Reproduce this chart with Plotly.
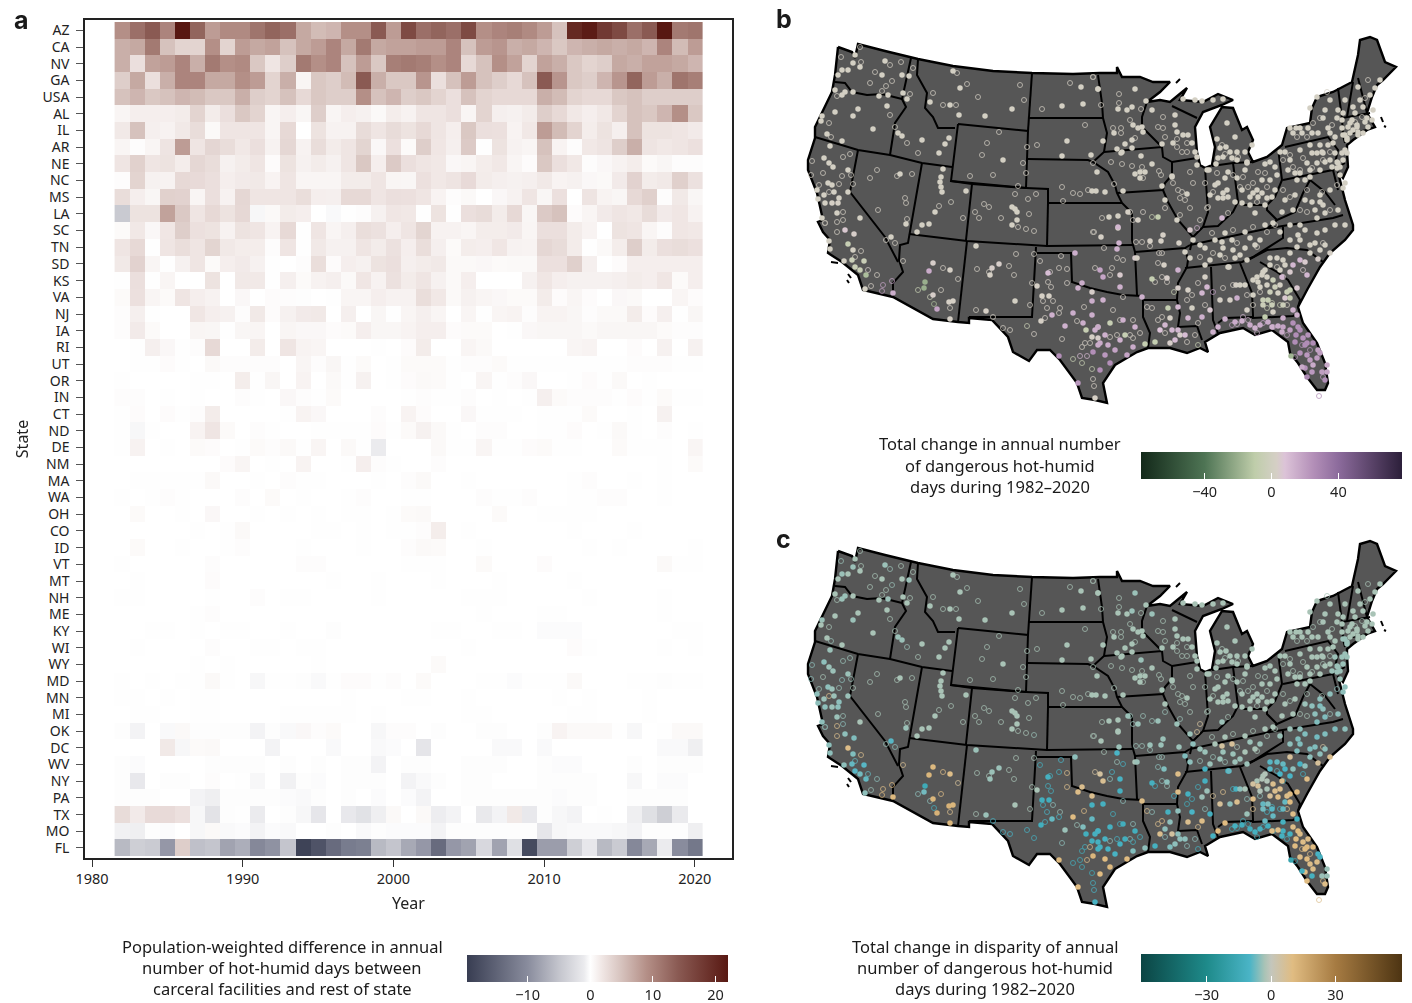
import plotly.graph_objects as go

FONT = "Noto Sans"
W, H = 1412, 1003
years = list(range(1982, 2021))
states = ["AZ","CA","NV","GA","USA","AL","IL","AR","NE","NC","MS","LA","SC","TN","SD","KS","VA","NJ","IA","RI","UT","OR","IN","CT","ND","DE","NM","MA","WA","OH","CO","ID","VT","MT","NH","ME","KY","WI","WY","MD","MN","MI","OK","DC","WV","NY","PA","TX","MO","FL"]

AZ=[9,12,14,10,22,13,8,9.5,9.5, 11.5,13,12,7,5.5,6,9,9,14,8, 16,12,13,12,16,9,10,10.5,9.5,8, 5,20,21.5,18,16,12,14,22,11,11.5]
CA=[6.5,7,11,5,3.5,3.5,9,3.5,8, 7,7.5,5,7,8,10,7,11,7,7.5, 7.5,8,8,10,5,8,8.5,6.5,7,6, 4.5,6,6.5,7,6.5,7,6,10,5.5,5][:38]+[8]
NV=[6.5,2.5,7.5,8,10,6.5,11,9,9.5, 4.5,2,4,11,9,10,5,8,4.5,10.5, 11,10.5,9,10,3,5,9,7.5,3.5,7.5, 6.5,4.5,3.5,4,7,6.5,7.5,7.5,7,6]
GA=[4,7,2.5,6.5,10,10,7,7,9, 8,3.5,6.5,.8,4.5,4,5.5,14,6.5,4.5, 4.5,8.5,2.5,5,8,5,4,3,5,14, 8.5,4.5,4,6,8.5,13,8,6.5,11.5,10.5]
USA=[5,6,4.5,5,6,5.5,4.5,4.5,6.5, 4,3.5,5,3,4.5,4,4,9,5,6, 4,4.5,3.5,2.5,5,3.5,3,3,3,6.5, 5.5,3.5,3,3,4.5,5,4,4,4,4]
AL=[.8,1.3,1.3,1.3,1.5,3.5,1.5,2.5,4.5, 3.5,.8,1.3,.7,4,.8,1.3,1.1,.5,1.4, 1,2,2,2.5,.8,3.5,1.2,1.1,1.5,4, 3,1.8,1.3,1.8,3.5,5,4.5,6,9,4.5]
IL=[1.7,5,1.2,1,1.7,2.7,.5,2,2, 2,.8,3,0,2.2,1,1,2.8,2,2.8, 2.2,3,2,1.3,4.5,2.5,2.4,.9,1.8,8, 5.5,3.5,1.4,2.2,1.2,5,2.2,2.2,2,1.6]
AR=[.8,.2,.8,2.1,8,2,3.3,2.7,1.8, 2.5,1,3.2,1,2.7,1.5,2,3.4,.6,2.4, .4,4,1.9,1.2,4.3,.1,2.2,1,.8,5, .9,.2,1.8,2.1,4,6.5,2.1,1.8,2,2.4]
NE=[2,3.7,2,2.2,1.4,3.2,2.7,1.1,1.5, 2,.3,2.2,1.1,1.5,1.1,2,4.5,1.3,4.3, 2.5,2,1.8,.6,.8,1.4,1.8,.8,.3,4.5, 2.5,1.8,.2,.6,1,1.4,.4,.7,.2,.2]
NC=[.2,3.5,1.1,1,3,2.9,2.5,1.3,1.6, 1.7,.9,2,.8,.8,.8,1.5,1.5,2,.8, .7,2.4,1.8,2.1,2.9,1.5,1.2,1.1,1.2,1.7, .9,1.1,.6,.5,1.6,3.6,1.5,1.7,3.8,2.3]
MS=[2.7,1.3,.7,3.7,3.6,.8,2.5,1,3.2, 2,2,2,2.6,1.3,1.2,3,3,2,2.5, 2.4,2,.9,.2,.5,0,.6,1,2,.7, 2.4,0,2.1,.9,.7,3,3.8,.2,1.7,.7]
LA=[-4.5,2.2,2.2,7.5,4.4,2,3,2.2,3.1, -.4,.5,1.5,1.3,0,-.3,.1,.2,1.1,1.9, 1.8,.1,2.2,.1,2.5,2.8,1.5,3,.7,4.3, 5,.3,.8,1.6,2,1.8,2.8,1.6,1.9,1]
SC=[.4,1.8,.6,1.9,4,2.4,2.2,1,2.2, 2,.9,3,.1,2,.8,1.2,2.6,2.3,1.3, 2,3.4,1,1,.8,1.4,1.4,1.6,.8,2.5, 2.5,1.5,.9,0,2.2,2,.8,.2,1.9,1.8]
TN=[2,3,.1,2,2.6,2,3.4,1.7,1.4, 1.4,.2,2,.1,1.7,1.1,1.1,2,1.5,2.3, 1.3,2.6,1.2,.4,1.4,1.3,1.9,1,.9,3.2, 2.8,1.5,.1,.5,1.4,4,1.5,2.5,2.7,2.4]
SD=[1.7,3.6,.8,.1,1.1,2,.4,1.3,1.6, 1.1,.1,0,.2,2.6,.3,1.3,1.1,2.2,2.5, 1.2,1.5,1.7,.5,.5,.6,.4,.5,.5,2.4, 2.4,3.8,1.2,0,.3,1.3,1.3,1.3,1.3,1.3]
KS=[.1,2.5,.1,.8,0,0,2.2,0,1.7, 1.7,.1,1.2,.4,1,1.2,.5,1.9,1,2.3, 1.5,2,1.1,.5,1.3,0,0,0,1.1,1.9, 1.3,1.1,1.1,1.1,1.2,1.5,1.3,1.9,.4,1.3]
VA=[.4,2.4,.8,.4,2,1.3,1,0,.6, 0,.3,.2,-.1,0,.1,.8,.8,1.3,1, 1,2.6,1.8,.5,1.1,.8,.6,.4,.4,1.5, .3,.8,.3,0,.6,.5,0,0,.8,.3]
NJ=[.2,1.2,.1,0,0,1.9,1.3,1.1,.2, 1.7,.3,1.1,1.6,1.7,0,1.2,0,.7,.1, .8,1.2,.8,0,.8,.1,.8,.9,.2,.9, .9,.7,.2,.5,.5,1.5,.3,1.2,.1,.7]
IA=[.2,1.6,.4,0,0,.8,.7,.1,.7, .8,0,.8,.6,.6,.3,.4,1.3,.7,.7, .9,1.3,1.3,.3,.4,.4,0,.1,.6,.7, .7,.7,.5,.7,.7,.7,.7,.4,.2,.2]
RI=[0,.1,1.2,.6,.1,.2,3,0,0, 1.5,0,2,.9,.8,0,0,0,.1,0, .3,1.5,0,0,.8,.5,0,0,0,0, 0,.8,.9,0,0,.3,0,1.1,0,1.1]
UT=[0,.1,.1,.3,.1,0,.5,.2,.2, .2,.2,0,.8,.2,.7,.1,.4,0,.1, .4,.4,.4,.1,.2,.2,.4,.1,.1,.1, .1,.1,.1,.1,.1,.2,.2,.2,.1,.1]
OR=[.1,0,0,0,0,.1,.1,0,1.4, .1,.7,0,.9,0,.5,.1,1.1,0,.1, .3,.5,.4,.1,0,.8,.1,.2,.6,0, 0,.1,.3,.1,.5,0,.1,0,0,0]
IN=[.2,.2,0,.1,0,.1,0,0,.2, .1,0,.6,.2,.1,.4,0,0,0,0, .1,.2,.1,.1,.2,0,.1,0,.1,1.2, .4,.2,.2,.2,.1,.3,.1,.4,.1,.1]
CT=[.1,.3,0,.3,.1,.2,1.5,0,0, 0,0,.1,.9,.6,0,0,0,.2,0, .9,.3,0,0,.6,.1,.1,.1,0,.1, .1,.1,.4,0,0,.1,0,1.1,0,0]
ND=[.1,-.4,.1,0,0,.9,2,.4,0, .2,.1,0,0,.1,.1,.1,.1,.3,.1, .4,1.1,.5,.1,0,.2,.2,0,0,.1, .1,.3,0,.1,.5,.1,0,.2,0,.1]
DE=[.1,1,0,.1,0,.4,.3,0,.1, .4,.2,.5,.1,.8,0,.5,.1,-1,0, 0,0,.5,.1,.1,.8,.1,.1,.3,.4, .1,.1,0,0,.4,.1,.1,.1,0,.8]
NM=[0,0,0,0,0,0,0,.3,.8, 0,.1,0,.9,0,0,.1,1.3,.2,.1, 0,0,.2,0,0,0,0,0,0,0, 0,0,0,0,0,0,0,.1,0,.4]
MA=[0,.1,.1,.1,.1,.1,.5,0,0, .1,0,.2,.1,.1,0,0,0,.1,0, .2,.5,0,0,.1,0,0,0,0,0, 0,.1,.2,0,0,.1,0,.1,0,0]
WA=[.1,0,.1,.2,.1,0,0,0,.2, 0,.4,0,.1,0,0,.1,.2,0,0, .1,.1,0,0,0,.2,.1,.1,.2,0, 0,.1,.1,.2,.2,0,0,.1,0,0]
OH=[0,.4,0,0,.1,0,.6,0,0, .1,0,.1,0,.1,0,.1,.1,0,.1, .4,.5,0,0,0,0,.4,0,0,.1, .1,.1,.1,0,0,0,0,0,0,0]
CO=[0,0,0,0,0,.1,0,.1,.5, 0,0,0,0,.1,.1,0,.1,0,.1, .1,.2,1.4,0,.1,0,0,0,0,0, 0,.1,0,0,0,.1,0,0,0,0]
ID=[0,.4,0,0,.1,0,0,.1,.2, 0,0,0,.1,0,0,0,.1,0,0, .2,.5,.4,0,0,.1,0,0,0,0, 0,0,.1,0,.1,0,0,0,0,.1]
VT=[.1,0,0,0,0,0,.2,0,0, 0,0,0,.2,.2,0,0,0,0,0, .1,.1,.1,0,0,.4,0,0,0,.3, 0,0,0,0,0,0,0,.5,.1,.1]
MT=[0,.1,0,0,0,0,.3,0,0, 0,0,0,0,0,.1,0,0,.1,0, 0,0,.1,0,0,0,.1,0,0,0, 0,.1,0,0,0,0,0,0,0,0]
NH=[.1,.1,0,0,0,0,.1,0,0, .2,0,.1,.1,0,0,0,0,.1,0, 0,0,0,0,.1,.1,.1,0,0,0, 0,0,.1,0,0,0,0,.1,0,0]
ME=[0,0,0,0,0,.1,.2,0,0, 0,0,0,0,0,0,0,0,0,0, 0,0,0,0,0,.1,0,0,0,.1, .1,0,0,0,0,0,0,.1,0,0]
KY=[0,0,.1,.1,0,.1,0,.1,.1, 0,0,.1,0,0,-.1,0,0,0,0, 0,0,.1,.1,0,0,.1,.1,0,-.2, -.2,-.2,0,0,0,0,0,0,.1,.1]
WI=[0,.1,0,0,0,0,.2,0,0, .1,.1,0,.1,.1,0,0,0,0,0, 0,0,0,0,.1,0,0,0,0,0, 0,.3,.1,0,0,0,0,.1,0,.1]
WY=[0,0,0,0,0,.1,0,.1,0, 0,0,0,0,.1,0,0,0,0,0, 0,0,.4,0,0,0,0,0,0,0, 0,0,0,0,0,0,0,0,0,0]
MD=[.1,0,.1,0,.1,.1,.5,.1,0, -.4,.1,.1,-.1,-.3,.1,.3,.3,.1,.2, 0,.4,0,0,0,.1,.1,-.2,.1,.1, .1,.5,0,0,0,.1,.1,-.1,.1,.1]
MN=[.1,.1,0,.1,0,.1,.1,0,0, 0,0,0,0,0,0,.1,0,0,0, .1,.1,0,0,.1,0,0,0,0,0, .1,0,.1,0,0,0,.1,0,0,0]
MI=[0,.1,.1,0,0,.1,.1,0,0, 0,0,.1,.1,.1,.1,.1,0,.1,0, 0,0,0,0,.1,.1,0,0,0,0, 0,.1,.1,0,0,0,.1,0,0,0]
OK=[-.1,-.6,0,-.3,.5,-.1,-.1,-.1,-.1, -.6,-.1,-.3,.6,.2,.4,0,0,-.4,.2, .2,0,-.1,0,0,-.1,-.1,0,0,-.1, .9,.5,.5,.5,.1,-.4,0,.1,.5,.5]
DC=[0,0,0,1.7,-.4,.4,.5,0,0, 0,-.6,0,0,0,-.3,0,0,-.3,-.2, 0,-1.6,0,0,0,0,-.3,-.3,0,-.3, 0,0,0,0,0,0,0,-.3,-.3,-.8]
WV=[-.1,-.2,0,0,0,0,-.1,-.1,-.1, -.1,0,-.1,0,-.1,0,-.1,-.1,-.6,0, -.1,-.1,0,0,-.1,-.1,-.1,0,0,-.1, -.2,-.2,0,0,0,-.1,0,-.1,-.1,-.1]
NY=[-.1,-1.3,0,-.1,-.1,0,.2,0,.1, -.4,0,-.7,-.1,-.2,0,-.1,-.1,-.1,0, -.6,-.3,-.1,0,-.1,-.1,0,0,0,-.1, -.1,-.1,-.1,0,0,-.4,0,-.2,-.2,0]
PA=[-.1,-.1,-.1,0,0,-.6,-.8,-.1,-.1, -.1,-.1,-.2,-.3,-.1,0,-.1,0,-.2,0, -.2,-.6,0,0,-.1,-.1,-.1,-.1,-.1,-.1, -.2,-.1,-.1,0,0,-.1,-.1,-.1,-.1,0]
TX=[2.8,1.6,2.9,2.9,2.4,-.4,-1.8,-.1,.1, -1,0,-.1,-.4,-1.5,0,-1.3,-2,-.8,.5, 0,.5,-.9,-.6,0,-1.2,-.6,1.7,-1.3,-.1, -.4,-.6,0,.1,0,-.8,-2.2,-4,-1.1,0]
MO=[-.7,-.8,-.1,-.2,0,-.4,.5,-.3,-.2, -.6,-.2,-.3,0,0,-.1,0,-.3,-.1,-.2, -.2,-.2,-.6,-.1,-.1,-.1,-.1,-.1,-.1,-1.5, -.4,-.3,-.3,-.3,-.4,-.6,-.1,-.1,-.1,-.8]
FL=[-6,-4,-4.4,-9,4,-5.4,-5,-8,-7, -10.5,-9.5,-5,-19,-17,-14,-12,-11.5,-6,-5, -7.5,-9,-14,-9,-8,-3,-8,-2.2,-18,-8.5, -8.5,-4,-1.4,-6,-4.4,-10.5,-7.5,-1,-10,-12.5]

rows = [AZ,CA,NV,GA,USA,AL,IL,AR,NE,NC,MS,LA,SC,TN,SD,KS,VA,NJ,IA,RI,UT,OR,IN,CT,ND,DE,NM,MA,WA,OH,CO,ID,VT,MT,NH,ME,KY,WI,WY,MD,MN,MI,OK,DC,WV,NY,PA,TX,MO,FL]
for s, r in zip(states, rows):
    assert len(r) == 39, (s, len(r))

# Map outline and state borders in map units
us_outline = [(838,47),(846,50),(852,52),(855,58),(858,44),(885,51),(912,57),(918,59),(953,66),(993,71),(1032,73),(1073,74),(1100,73),(1117,73),(1117,67),(1122,77),(1140,77),(1153,82),(1170,82),(1160,92),(1147,102),(1160,100),(1170,102),(1187,88),(1180,100),(1203,102),(1218,94),(1233,100),(1222,105),(1203,112),(1195,127),(1197,152),(1200,165),(1205,168),(1212,165),(1215,147),(1210,127),(1222,107),(1233,108),(1242,130),(1247,127),(1253,140),(1248,152),(1253,162),(1267,157),(1282,145),(1287,128),(1310,123),(1312,108),(1317,97),(1333,92),(1352,82),(1358,55),(1360,40),(1370,37),(1377,40),(1385,62),(1396,67),(1383,80),(1377,85),(1372,97),(1367,113),(1375,127),(1367,130),(1353,140),(1347,145),(1347,152),(1348,167),(1343,178),(1338,172),(1345,200),(1353,225),(1353,230),(1345,240),(1330,253),(1320,267),(1307,290),(1298,307),(1303,323),(1317,343),(1325,363),(1328,383),(1325,390),(1317,390),(1307,377),(1298,363),(1290,353),(1288,342),(1272,330),(1255,335),(1243,328),(1220,333),(1205,342),(1208,352),(1200,348),(1187,353),(1170,348),(1148,348),(1137,352),(1115,365),(1103,383),(1107,403),(1095,400),(1082,398),(1077,383),(1060,360),(1050,350),(1037,350),(1029,361),(1013,352),(1008,337),(992,320),(969,318),(969,323),(958,322),(933,319),(893,297),(863,290),(858,275),(842,262),(828,253),(830,240),(823,232),(818,222),(823,220),(817,193),(808,170),(808,160),(815,138),(815,127),(832,92),(835,75),(838,47)]
state_borders = [
 [(835,82),(845,83),(852,92),(867,95),(882,94),(902,99)],
 [(911,58),(902,99),(906,107),(895,123),(890,155)],
 [(815,137),(858,150),(890,155),(922,163),(952,167)],
 [(918,59),(917,75),(927,93),(925,108),(933,117),(938,128),(955,128)],
 [(958,124),(1028,131),(1026,188),(951,181),(958,124)],
 [(1032,73),(1028,131)],
 [(1029,118),(1103,118)],
 [(1098,75),(1102,103),(1103,118),(1107,133),(1104,152),(1093,162)],
 [(1028,159),(1088,160),(1093,162),(1108,172),(1115,185),(1117,193),(1122,203),(1132,213),(1132,240),(1133,245)],
 [(1026,188),(1048,189),(1048,203),(1122,203)],
 [(1104,152),(1162,147),(1163,157),(1172,162),(1172,175),(1165,183),(1163,190),(1117,193)],
 [(1147,102),(1142,117),(1142,127),(1152,137),(1162,147)],
 [(1172,106),(1197,118)],
 [(1172,162),(1197,158)],
 [(1205,168),(1207,202),(1208,212),(1203,227)],
 [(1163,190),(1168,202),(1178,220),(1193,237),(1190,250)],
 [(1193,237),(1203,227),(1218,226),(1233,212),(1238,202),(1243,205),(1267,205),(1275,197),(1282,180),(1278,148)],
 [(1212,166),(1233,163),(1253,162)],
 [(1233,163),(1238,202)],
 [(1267,205),(1267,210),(1277,220),(1295,212),(1303,193),(1310,180),(1325,192),(1335,205)],
 [(1277,220),(1268,228)],
 [(1283,180),(1333,170),(1338,190)],
 [(1333,170),(1345,163)],
 [(1285,147),(1328,137),(1338,150),(1335,163)],
 [(1338,88),(1342,118),(1343,135),(1345,143)],
 [(1353,82),(1347,117)],
 [(1358,78),(1367,113)],
 [(1342,118),(1370,113)],
 [(1343,135),(1367,130)],
 [(1190,245),(1223,238),(1270,228),(1333,218),(1343,215)],
 [(858,150),(850,192),(885,237),(898,262)],
 [(922,163),(908,243),(900,245),(899,260),(903,272),(893,283),(893,297)],
 [(909,234),(967,241),(1047,246),(1133,245)],
 [(951,181),(972,184),(966,240)],
 [(972,184),(1026,188)],
 [(1048,203),(1047,246)],
 [(967,241),(958,322)],
 [(1036,247),(1032,317),(992,317),(969,317)],
 [(1036,253),(1071,253),(1072,282),(1090,288),(1107,292),(1123,295),(1142,296),(1143,300),(1143,317),(1150,333),(1148,348)],
 [(1133,245),(1135,252),(1137,295)],
 [(1135,252),(1185,248),(1190,245)],
 [(1185,248),(1188,260),(1187,267),(1178,283),(1177,300),(1143,300)],
 [(1177,300),(1180,313),(1178,327),(1197,326),(1202,340)],
 [(1185,268),(1242,262),(1253,257),(1283,238),(1283,227)],
 [(1248,260),(1267,250),(1287,248),(1307,250),(1323,262)],
 [(1260,262),(1277,272),(1288,280),(1300,300),(1298,307)],
 [(1240,263),(1252,293),(1253,315),(1253,318),(1293,316),(1297,314)],
 [(1211,267),(1213,320),(1218,333)],
 [(1218,323),(1225,318),(1253,317)],
 [(831,262),(838,263)],[(848,274),(851,278)],[(847,280),(849,283)],[(1176,83),(1180,79)],[(1381,117),(1383,122)],[(1384,126),(1386,127)],
]

# Facilities: map x, map y, change in hot-humid days (b), change in disparity (c)
west_filled = [(838,75,2,-3),(842,70,2,-4),(848,70,2,-3),(853,63,2,-4),(855,55,2,-3),(860,67,2,-3),(885,61,2,-4),(882,75,2,-3),(902,75,2,-3),(909,76,2,-4),(845,92,2,-4),(835,90,2,-3),(853,92,2,-3),(842,95,2,-4),(879,96,2,-3),(888,95,2,-4),(858,109,2,-3),(835,112,2,-3),(853,116,2,-4),(887,106,2,-3),(873,129,2,-3),(822,116,2,-4),(821,121,2,-3),(827,134,2,-3),(842,141,2,-3),(903,93,2,-3),(907,99,2,-3),(898,133,2,-4),(902,136,2,-4),(922,140,2,-3),(945,144,2,-3),(949,138,2,-3),(939,153,2,-3),(953,71,2,-3),(960,88,2,-3),(930,102,2,-3),(950,105,2,-3),(959,115,2,-3),(985,116,2,-3),(1012,109,2,-3),(1003,160,2,-3),(1081,87,2,-3),(1083,104,2,-3),(1098,89,2,-3),(1062,106,2,-3),(1067,141,2,-3),(1062,156,2,-3),(1091,155,2,-3),(1097,172,2,-3),(1092,191,2,-3),(1012,207,2,-3),(1015,209,2,-3),(1017,212,2,-3),(1017,220,2,-3),(1012,225,2,-3),(943,169,2,-3),(941,177,2,-3),(940,182,2,-3),(941,187,2,-3),(942,192,2,-3),(966,191,2,-3),(935,212,2,-3),(922,225,2,-3),(929,224,2,-3),(917,232,2,-3),(900,174,2,-3),(848,192,2,-4),(860,218,2,-3),(906,224,2,-4),(830,146,2,-4),(824,158,2,-5),(829,163,2,-4),(833,167,2,-4),(848,170,2,-4),(828,183,2,-5),(832,185,2,-4),(834,192,2,-4),(817,190,2,-5),(839,198,2,-5),(818,199,2,-5),(824,195,2,-4),(825,203,2,-5),(832,203,3,-4),(838,203,3,-5),(837,213,2,-4),(822,218,2,-5),(829,241,2,-5),(830,249,2,-5),(845,230,6,-5),(848,244,-6,9),(854,234,4,-6),(853,250,2,-6),(844,261,2,-5),(852,260,-4,-8),(864,261,-4,-9),(855,267,-5,-9),(860,270,-5,-7),(866,275,-15,-8),(865,289,2,-5),(893,293,15,11),(891,237,2,-9),(933,263,4,11),(950,270,3,9),(929,271,16,12),(925,282,-20,-15),(924,288,-20,-7),(933,295,4,12),(937,309,18,13),(949,302,3,13),(953,301,3,12),(950,319,3,12),(976,246,2,-4),(999,264,4,-4),(992,268,4,-4),(990,275,3,-4),(986,311,3,-4),(1015,301,2,-3)]
west_ring = [(860,47,2,-3),(841,57,2,-4),(861,62,2,-3),(890,65,2,-4),(901,62,2,-3),(875,72,2,-3),(870,83,2,-3),(892,81,2,-4),(886,86,2,-3),(913,68,2,-3),(837,96,2,-3),(882,91,2,-3),(829,123,2,-3),(890,115,2,-3),(831,137,2,-4),(895,127,0,-3),(910,94,2,-3),(907,143,2,-4),(918,153,2,-3),(957,73,2,-3),(967,84,2,-3),(933,93,2,-3),(978,97,2,-3),(1020,85,2,-3),(1024,100,2,-3),(943,105,2,-3),(956,105,2,-3),(999,132,2,-3),(987,143,2,-3),(982,155,2,-3),(970,176,2,-3),(993,175,2,-3),(1027,147,2,-3),(1023,163,2,-3),(1026,173,2,-3),(1070,83,2,-3),(1042,109,2,-3),(1093,77,2,-3),(1085,125,2,-3),(1037,145,2,-3),(1062,187,2,-3),(1063,201,2,-3),(1073,193,2,-3),(1080,194,2,-3),(1088,190,2,-3),(1093,163,2,-3),(1018,186,2,-3),(1015,194,2,-3),(1036,194,2,-3),(1028,199,2,-3),(984,204,2,-3),(989,207,2,-3),(975,212,2,-3),(1029,214,2,-3),(979,218,2,-3),(1001,218,2,-3),(1018,227,2,-3),(1026,229,2,-3),(1034,231,2,-4),(951,202,0,-3),(939,206,2,-3),(963,218,2,-3),(877,170,2,-3),(897,176,2,-3),(912,174,2,-3),(870,178,2,-3),(905,198,2,-3),(906,203,2,-3),(878,210,2,-3),(907,219,2,-3),(853,184,2,-3),(812,161,2,-5),(811,175,2,-5),(850,154,2,-4),(843,157,2,-4),(823,173,2,-3),(842,176,2,-5),(851,175,2,-4),(819,185,2,-4),(829,192,2,8),(839,184,2,-4),(843,212,2,-4),(825,223,2,-4),(837,222,2,8),(843,220,2,-5),(837,232,2,8),(825,223,2,-5),(861,251,2,8),(855,257,2,-8),(868,270,4,-8),(877,275,2,-5),(871,286,3,-4),(883,285,18,9),(892,281,18,10),(882,291,18,10),(895,243,2,-5),(886,240,2,-4),(903,261,2,7),(943,268,3,9),(958,279,2,6),(918,290,-6,-5),(941,290,2,9),(930,297,-4,-5),(934,304,-15,-12),(950,308,2,8),(1016,254,2,-3),(1034,254,2,-3),(977,269,2,-3),(1009,266,2,-3),(1014,275,2,-3),(989,272,2,-3),(1032,283,2,-3),(1030,305,2,-3),(976,310,2,-3),(993,317,2,-12),(1003,328,2,-10),(1010,330,2,-10),(1027,326,-5,-11)]
plains_filled = [(1048,273,10,-12),(1037,286,3,-3),(1042,296,3,-13),(1049,296,3,-13),(1052,315,14,-8),(1041,321,3,-13),(1065,326,14,-4),(1073,313,15,10),(1083,323,15,-6),(1086,330,-6,-13),(1092,315,15,-8),(1092,337,3,-13),(1075,253,15,-5),(1082,283,15,8),(1078,288,14,9),(1092,292,4,8),(1092,301,15,-12),(1098,327,16,-11),(1098,345,16,-12),(1093,352,25,12),(1059,356,25,11),(1078,383,22,10),(1095,398,3,-11),(1118,228,3,-3),(1101,237,3,-3),(1119,243,14,-4),(1135,258,5,-3),(1100,270,18,5),(1103,277,18,7),(1120,275,5,-11),(1120,287,14,-12),(1117,249,14,-10),(1096,191,2,-3),(1105,192,2,-3),(1123,191,2,-3),(1118,216,2,-3),(1109,217,2,-3),(1118,227,12,-3),(1098,89,2,-3),(1135,89,2,-4),(1146,101,2,-3),(1132,107,2,-4),(1118,109,2,-3),(1127,110,2,-3),(1152,110,2,-4),(1114,133,2,-3),(1142,127,2,-3),(1133,125,2,-3),(1143,132,2,-3),(1138,128,2,-3),(1132,140,2,-3),(1125,144,2,-3),(1103,141,2,-3),(1117,149,2,-3),(1132,148,2,-3),(1122,152,2,-3),(1141,156,2,-4),(1152,164,2,-3),(1135,174,2,-3),(1140,172,2,-3),(1145,172,2,-3),(1140,178,2,-3),(1162,186,2,-3),(1172,176,2,-3),(1121,153,2,-3),(1098,338,4,-12),(1108,345,16,-11),(1125,335,-6,-13),(1123,320,14,-13),(1110,323,-6,-12),(1135,327,14,-13),(1142,297,14,9),(1103,300,14,-12),(1100,343,16,-12),(1127,355,18,10),(1110,363,25,11),(1100,370,25,10),(1133,347,16,-6),(1152,279,-7,-12),(1167,278,4,-5),(1178,288,4,9),(1178,270,14,9),(1164,265,3,-6),(1137,258,3,-4),(1163,235,3,-4),(1161,241,3,-4),(1179,243,3,-4),(1150,241,3,-4),(1158,217,-8,-4),(1138,220,3,-4),(1128,212,3,-4)]
plains_ring = [(1040,261,3,-12),(1061,256,3,-10),(1050,272,4,-12),(1059,268,3,-12),(1067,269,3,8),(1048,282,3,-12),(1051,287,3,-12),(1067,283,3,8),(1043,301,3,-12),(1053,301,3,-5),(1047,308,3,-11),(1060,308,3,-4),(1059,313,3,-10),(1045,318,3,-11),(1034,334,3,-12),(1062,339,3,-5),(1077,321,3,-4),(1084,307,3,9),(1085,343,3,-12),(1082,347,3,-13),(1090,343,3,8),(1073,359,-6,-13),(1082,363,-6,-13),(1092,369,-6,-14),(1093,379,3,-12),(1080,356,12,-13),(1087,356,12,9),(1094,386,3,-10),(1094,232,3,-3),(1117,258,3,-4),(1104,248,3,-3),(1112,268,3,-10),(1095,268,3,5),(1123,260,3,-11),(1110,275,3,-5),(1114,184,2,-3),(1093,232,2,-3),(1102,218,2,-3),(1119,94,2,-3),(1119,103,2,-3),(1141,109,2,-3),(1130,120,2,-3),(1121,128,2,-3),(1113,128,2,-3),(1121,133,2,-3),(1158,127,2,-3),(1163,117,2,-3),(1135,138,2,-3),(1093,77,2,-3),(1101,105,2,-3),(1122,164,2,-3),(1132,166,2,-3),(1142,167,2,-3),(1159,171,2,-3),(1161,175,2,-3),(1143,178,2,-3),(1111,162,2,-3),(1123,297,3,-5),(1113,310,3,-12),(1120,320,3,-12),(1133,320,3,-5),(1140,333,3,-12),(1098,327,3,-11),(1117,335,3,-11),(1110,337,3,-5),(1130,335,3,-5),(1133,338,3,-12),(1158,263,3,-5),(1167,282,3,-4),(1155,282,3,-11),(1162,277,3,-5),(1174,292,-6,-10),(1162,253,3,-4),(1142,242,3,-4),(1150,246,3,-4),(1159,253,3,-4),(1136,242,3,-4),(1130,212,3,-4),(1143,212,3,-4),(1152,217,-6,-4),(1165,208,3,-4),(1133,220,3,-4)]
midwest_filled = [(1175,115,2,-3),(1175,125,2,-3),(1188,135,2,-3),(1173,143,2,-3),(1183,135,2,-3),(1177,132,2,-3),(1192,143,2,-3),(1195,152,2,-3),(1197,157,2,-3),(1162,144,2,-3),(1183,99,2,-3),(1195,100,2,-3),(1202,101,2,-3),(1213,100,2,-3),(1223,99,2,-3),(1227,123,2,-3),(1217,139,2,-3),(1235,137,2,-3),(1226,147,2,-3),(1220,148,2,-3),(1218,158,2,-3),(1223,157,2,-3),(1230,152,2,-3),(1237,152,2,-3),(1245,152,2,-3),(1232,158,2,-3),(1237,160,2,-3),(1247,162,2,-3),(1216,164,2,-3),(1252,145,2,-3),(1197,165,2,-3),(1207,170,2,-3),(1172,177,2,-3),(1187,194,2,-3),(1165,200,2,-3),(1177,220,2,-4),(1190,230,5,-4),(1218,183,2,-3),(1223,193,2,-3),(1227,190,2,-3),(1218,198,2,-3),(1223,198,2,-3),(1228,197,2,-3),(1209,170,2,-3),(1228,172,2,-3),(1235,202,2,-3),(1222,218,12,-4),(1247,163,2,-3),(1265,164,2,-3),(1257,190,2,-3),(1253,193,2,-3),(1250,197,2,-3),(1258,197,2,-3),(1270,180,2,-3),(1275,167,2,-3),(1270,162,2,-3),(1280,152,2,-3),(1272,197,2,-3),(1242,203,2,-3),(1265,205,2,-3)]
midwest_ring = [(1163,128,2,-3),(1177,139,2,-3),(1165,137,2,-3),(1187,143,2,-3),(1182,152,2,-3),(1187,152,2,-3),(1177,147,2,-3),(1225,154,2,-3),(1238,157,2,-3),(1222,145,2,-3),(1178,190,2,-3),(1182,192,2,-3),(1193,183,2,-3),(1180,198,2,-3),(1185,200,2,-3),(1190,208,2,-3),(1205,183,2,-3),(1180,215,2,-4),(1197,228,14,6),(1190,172,2,-3),(1207,208,2,-3),(1200,220,2,5),(1173,183,2,-3),(1217,173,2,-3),(1233,175,2,-3),(1213,192,2,-3),(1228,213,2,-3),(1208,207,2,-3),(1243,177,2,-3),(1253,183,2,-3),(1258,172,2,-3),(1265,173,2,-3),(1240,187,2,-3),(1267,187,2,-3),(1248,187,2,-3),(1257,202,2,-3)]
east_filled = [(1285,152,2,-3),(1312,153,2,-3),(1322,152,2,-3),(1328,145,2,-3),(1335,153,2,-4),(1337,162,2,-4),(1307,163,2,-3),(1317,163,2,-3),(1288,170,2,-3),(1330,160,2,-3),(1297,180,2,-3),(1310,177,2,-3),(1340,167,2,-4),(1290,128,2,-3),(1300,128,2,-3),(1308,128,2,-3),(1318,133,2,-3),(1310,108,2,-3),(1317,97,2,-3),(1323,118,2,-3),(1338,110,2,-3),(1337,118,2,-3),(1342,128,2,-3),(1347,138,2,-4),(1345,150,2,-4),(1330,133,2,-3),(1293,133,2,-3),(1342,120,2,-3),(1358,87,2,-3),(1375,88,2,-3),(1380,80,2,-3),(1370,95,2,-3),(1353,107,2,-3),(1363,107,2,-3),(1350,123,2,-3),(1357,127,2,-3),(1367,118,2,-3),(1373,110,2,-3),(1345,135,2,-4),(1358,135,2,-3),(1368,127,2,-3),(1363,133,2,-3),(1343,188,2,-5),(1312,202,2,-5),(1320,202,2,-6),(1323,205,2,-5),(1282,212,2,-3),(1293,210,2,-3),(1273,223,2,-3),(1338,210,2,-5),(1300,225,2,-5),(1317,218,2,-6),(1298,235,2,-6),(1317,233,2,-7),(1310,245,2,-6),(1330,253,3,8),(1318,259,4,6),(1307,275,12,9),(1293,265,12,-5),(1300,260,12,-11),(1285,265,2,-10),(1277,258,2,-8),(1270,258,2,-9),(1290,253,2,6),(1310,253,2,-5),(1297,247,2,-6),(1282,277,12,8),(1290,290,-7,10),(1297,288,6,10),(1285,298,6,-8),(1257,277,2,-3),(1263,272,2,-3),(1258,282,2,6),(1267,285,2,-3),(1253,295,2,9),(1268,300,-6,-6),(1263,300,-5,-8),(1273,280,-4,8),(1278,293,2,9),(1293,310,14,9),(1265,317,-8,-8),(1273,312,2,-8),(1193,240,2,-5),(1185,252,2,-6),(1190,258,2,-5),(1205,265,2,-12),(1222,242,2,5),(1232,240,2,6),(1223,248,2,-4),(1233,250,2,-4),(1240,255,2,-4),(1250,238,2,-4),(1260,240,2,-4),(1205,248,2,-4),(1247,260,2,-4),(1228,267,2,-11),(1205,277,3,-12),(1202,293,12,-4),(1188,290,3,-12),(1192,308,2,-10),(1188,318,12,8),(1202,317,14,9),(1207,287,12,-4),(1237,298,15,8),(1229,267,2,-8),(1247,310,3,-4),(1236,285,3,-12),(1225,319,14,10),(1218,327,14,10),(1213,332,14,-12),(1242,321,14,-13),(1168,308,-7,-12),(1178,307,12,-5),(1155,342,-7,-12),(1170,318,3,-5),(1178,330,12,-5),(1180,335,4,-5),(1170,343,4,-6),(1145,344,-7,-5)]
east_dense = [(1338,163,2,-4),(1343,160,2,-4),(1347,153,2,-4),(1342,153,2,-4),(1337,168,2,-4),(1332,167,2,-4),(1347,140,2,-4),(1350,133,2,-3),(1353,130,2,-3),(1357,125,2,-3),(1358,132,2,-3),(1348,127,2,-3),(1343,135,2,-4),(1352,120,2,-3),(1343,113,2,-3),(1333,143,2,-3),(1323,153,2,-3),(1317,153,2,-3),(1325,162,2,-3),(1320,170,2,-3),(1310,170,2,-3),(1300,173,2,-3),(1305,180,2,-3),(1295,173,2,-3),(1290,160,2,-3),(1300,150,2,-3),(1310,145,2,-3),(1320,145,2,-3),(1335,137,2,-3),(1328,128,2,-3),(1312,133,2,-3),(1302,133,2,-3),(1296,128,2,-3),(1325,110,2,-3),(1330,100,2,-3),(1345,100,2,-3),(1360,100,2,-3),(1355,113,2,-3),(1365,122,2,-3),(1372,120,2,-3),(1340,175,2,-4),(1345,183,2,-5),(1330,190,2,-5),(1320,195,2,-5),(1315,210,2,-5),(1325,213,2,-6),(1335,225,2,-6),(1345,225,2,-5),(1325,230,2,-6),(1305,230,2,-6),(1290,225,2,-4),(1280,232,2,-4),(1265,225,2,-3),(1255,213,2,-3),(1262,193,2,-3),(1267,198,2,-3),(1250,205,2,-3),(1242,190,2,-3),(1237,178,2,-3),(1225,178,2,-3),(1215,185,2,-3),(1210,195,2,-3),(1245,170,2,-3),(1262,180,2,-3),(1277,175,2,-3),(1285,200,2,-3),(1295,195,2,-3),(1305,200,2,-4),(1275,190,2,-3),(1262,275,2,-2),(1265,270,2,-2),(1267,277,2,-2),(1253,280,2,5),(1260,287,2,-2),(1270,292,-3,6),(1280,285,2,8),(1275,287,-3,8),(1287,292,-5,9),(1290,298,-5,10),(1283,305,-3,-8),(1272,305,-4,-9),(1263,305,-3,-7),(1290,240,2,-5),(1300,240,2,-6),(1315,243,2,-6),(1325,245,2,-5),(1320,250,2,-5),(1305,262,5,-5),(1290,272,5,-10),(1280,270,2,-10),(1270,265,2,-9),(1283,260,2,-8),(1215,240,2,-3),(1225,233,2,-3),(1245,232,2,-3),(1255,245,2,-3),(1245,248,2,-3),(1220,255,2,-4),(1210,260,2,-4),(1235,258,2,-4),(1200,245,2,-4)]
gulf_dense = [(1300,330,26,9),(1305,345,26,10),(1296,335,26,10),(1310,360,20,9),(1318,350,18,-11),(1322,372,20,-4),(1312,372,22,-12),(1305,368,24,9),(1290,330,20,-12),(1283,327,18,-12),(1235,322,16,-12),(1250,325,16,-13),(1260,325,16,-12),(1268,322,16,-13),(1278,326,16,9),(1165,325,12,-5),(1172,330,12,5),(1175,340,10,-5),(1185,335,10,-5),(1160,330,8,8),(1105,355,22,10),(1115,350,18,-11),(1120,340,14,-12),(1095,330,14,-12),(1105,335,14,-11),(1240,285,2,-5),(1230,300,3,-5),(1245,285,2,-3),(1220,300,3,6),(1210,310,6,-12)]
east_ring = [(1290,155,2,-3),(1303,158,2,-3),(1293,167,2,-3),(1300,170,2,-3),(1312,168,2,-3),(1323,160,2,-3),(1283,160,2,-3),(1330,152,2,-3),(1297,137,2,-3),(1307,137,2,-3),(1327,92,2,-3),(1332,125,2,-3),(1320,118,2,-3),(1313,123,2,-3),(1368,80,2,-3),(1365,98,2,-3),(1362,117,2,-3),(1355,122,2,-3),(1283,190,2,-3),(1290,197,2,-3),(1307,190,2,-3),(1322,192,2,-3),(1300,210,2,-3),(1330,210,2,-4),(1307,212,2,-3),(1337,185,2,-5),(1323,243,2,5),(1303,270,5,-12),(1283,277,5,-11),(1277,267,2,-9),(1260,292,2,-5),(1272,303,-5,-12),(1280,305,-5,-10),(1287,305,2,8),(1267,308,-5,-12),(1253,305,2,8),(1213,253,2,-4),(1200,257,2,-4),(1225,258,2,-4),(1237,243,2,-3),(1257,247,2,-3),(1212,233,2,-3),(1233,230,2,-3),(1253,227,2,-3),(1267,232,2,-3),(1275,225,2,-3),(1198,283,3,-12),(1187,300,3,-13),(1192,295,3,-12),(1205,305,3,-5),(1198,323,3,8),(1213,292,20,6),(1233,285,3,-11),(1247,295,3,-5),(1223,288,3,8),(1232,325,20,-13),(1237,324,12,-13),(1248,320,12,-12),(1243,317,14,-12),(1147,307,3,8),(1162,317,3,9),(1158,320,3,8),(1165,333,3,-5),(1152,308,3,-5),(1187,342,3,-5),(1195,335,3,-5),(1198,345,-6,-12)]
florida_filled = [(1297,315,14,-13),(1293,323,25,9),(1298,327,24,10),(1303,338,24,9),(1295,342,26,10),(1307,343,26,11),(1313,343,26,10),(1308,335,24,9),(1300,353,24,9),(1291,356,-18,-18),(1320,353,20,-12),(1317,358,20,9),(1307,355,22,10),(1327,365,16,-4),(1313,365,16,9),(1302,367,16,-12),(1327,372,18,-4),(1325,380,26,9),(1307,377,28,10),(1283,318,16,-12),(1272,327,14,9),(1282,332,16,-12),(1255,328,14,-12)]
florida_ring = [(1287,335,20,-12),(1302,345,22,9),(1310,350,22,9),(1295,357,22,-16),(1323,377,20,9),(1319,396,26,8),(1263,323,16,-12),(1257,333,16,-13),(1273,327,16,-12)]

filled_sites = west_filled + plains_filled + midwest_filled + east_filled + east_dense + gulf_dense + florida_filled
ring_sites = west_ring + plains_ring + midwest_ring + east_ring + florida_ring

# Colour scales
scale_a_values = [-19.7,-10,-5,-1,0,2,5,9,14,22]
scale_a_colors = ["#383d52","#898c9d","#c4c5cd","#ebebee","#ffffff","#efe5e3","#d6c2bd","#b48f87","#8a5a53","#581812"]
scale_b_values = [-78,-40,-10,0,3,8,25,40,78]
scale_b_colors = ["#13291a","#4e7454","#bfcdaa","#d0cfc0","#d5cfc5","#dcc3d8","#b38fb8","#8c6b9c","#2c1f3a"]
scale_c_values = [-60.5,-30,-10,-3,0,10,30,60.9]
scale_c_colors = ["#0b4544","#1e8a8a","#4ab4c6","#a9c3b6","#c4c6bc","#e0bc82","#a67b42","#4d3412"]

def scale(vals, cols):
    lo, hi = vals[0], vals[-1]
    return [[(v - lo) / (hi - lo), c] for v, c in zip(vals, cols)]

def px(x): return x / W
def py(y): return 1 - y / H

def cbar(x0, x1, ytop, h, ticks):
    return dict(orientation="h", x=px(x0), xanchor="left", y=py(ytop), yanchor="top",
                lenmode="pixels", len=x1 - x0, thicknessmode="pixels", thickness=h,
                xpad=0, ypad=0, outlinewidth=0, ticks="inside", ticklen=6, tickwidth=1, tickcolor="white",
                tickvals=ticks, tickfont=dict(family=FONT, size=14.5, color="#222"), showticklabels=True)

fig = go.Figure()
fig.add_trace(go.Heatmap(x=years, y=states, z=rows, coloraxis="coloraxis", xaxis="x", yaxis="y", hoverongaps=False))

map_axes = [("x2", "y2"), ("x3", "y3")]
for (xa, ya), col, cax in zip(map_axes, (2, 3), ("coloraxis2", "coloraxis3")):
    fig.add_trace(go.Scatter(x=[p[0] for p in us_outline], y=[p[1] for p in us_outline], mode="lines",
                             fill="toself", fillcolor="#565656", line=dict(color="black", width=2.4),
                             xaxis=xa, yaxis=ya, showlegend=False, hoverinfo="skip"))
    bx, by = [], []
    for seg in state_borders:
        bx += [p[0] for p in seg] + [None]
        by += [p[1] for p in seg] + [None]
    fig.add_trace(go.Scatter(x=bx, y=by, mode="lines", line=dict(color="black", width=2),
                             xaxis=xa, yaxis=ya, showlegend=False, hoverinfo="skip"))
    fig.add_trace(go.Scatter(x=[p[0] for p in ring_sites], y=[p[1] for p in ring_sites], mode="markers", opacity=0.75,
                             marker=dict(symbol="circle-open", size=5, line=dict(width=1), color=[p[col] for p in ring_sites], coloraxis=cax),
                             xaxis=xa, yaxis=ya, showlegend=False))
    fig.add_trace(go.Scatter(x=[p[0] for p in filled_sites], y=[p[1] for p in filled_sites], mode="markers",
                             marker=dict(symbol="circle", size=5.5, line=dict(width=0), color=[p[col] for p in filled_sites], coloraxis=cax),
                             xaxis=xa, yaxis=ya, showlegend=False))

ann = []
def text(x, y, s, size=17, **kw):
    ann.append(dict(x=px(x), y=py(y), xref="paper", yref="paper", text=s, showarrow=False,
                    font=dict(family=kw.get("family", FONT), size=size, color="#1a1a1a"), xanchor="center", yanchor="middle"))
text(21, 20, "<b>a</b>", 25, family="Inter")
text(784, 19, "<b>b</b>", 25, family="Inter")
text(783, 539, "<b>c</b>", 25, family="Inter")
for y, s in zip((946, 967, 988), ("Population-weighted difference in annual", "number of hot-humid days between", "carceral facilities and rest of state")):
    text(282, y, s, 16.5)
for y, s in zip((444, 465, 486), ("Total change in annual number", "of dangerous hot-humid", "days during 1982–2020")):
    text(1000, y, s, 16.5)
for y, s in zip((946, 967, 988), ("Total change in disparity of annual", "number of dangerous hot-humid", "days during 1982–2020")):
    text(985, y, s, 16.5)

# upper white ticks on the legend bars
shapes = []
for vals, ticks, x0, x1, y0, in ((scale_a_values, [-10,0,10,20], 467, 728, 955), (scale_b_values, [-40,0,40], 1141, 1402, 452), (scale_c_values, [-30,0,30], 1141, 1402, 954)):
    lo, hi = vals[0], vals[-1]
    for t in ticks:
        xp = x0 + (t - lo) / (hi - lo) * (x1 - x0)
        shapes.append(dict(type="line", xref="paper", yref="paper", x0=px(xp), x1=px(xp), y0=py(y0), y1=py(y0 + 5), line=dict(color="white", width=1)))

hidden = dict(visible=False, showgrid=False, zeroline=False)
fig.update_layout(
    width=W, height=H, margin=dict(l=0, r=0, t=0, b=0, autoexpand=False), autosize=False,
    paper_bgcolor="white", plot_bgcolor="white", showlegend=False,
    font=dict(family=FONT, size=15, color="#222"),
    annotations=ann, shapes=shapes,
    xaxis=dict(domain=[px(85), px(732)], range=[1979.535, 2022.47], tickvals=[1980,1990,2000,2010,2020],
               ticks="outside", ticklen=7, tickwidth=1, tickcolor="#333", showline=True, mirror=True, linecolor="#222", linewidth=1.5,
               showgrid=False, zeroline=False, tickfont=dict(size=14.5), title=dict(text="Year", font=dict(size=16), standoff=11), anchor="y"),
    yaxis=dict(domain=[py(858), py(20)], autorange=False, range=[49.6, -0.62], type="category", categoryorder="array", categoryarray=states,
               tickmode="array", tickvals=states, ticks="outside", ticklen=7, tickwidth=1, tickcolor="#555", showline=True, mirror=True, linecolor="#222", linewidth=1.5,
               ticklabelstandoff=4, showgrid=False, zeroline=False, tickfont=dict(size=14), title=dict(text="State", font=dict(size=16), standoff=10), anchor="x"),
    xaxis2=dict(domain=[px(800), px(1402)], range=[800, 1402], anchor="y2", **hidden),
    yaxis2=dict(domain=[py(415), py(30)], range=[415, 30], anchor="x2", **hidden),
    xaxis3=dict(domain=[px(800), px(1402)], range=[800, 1402], anchor="y3", **hidden),
    yaxis3=dict(domain=[py(919), py(534)], range=[415, 30], anchor="x3", **hidden),
    coloraxis=dict(cmin=scale_a_values[0], cmax=scale_a_values[-1], colorscale=scale(scale_a_values, scale_a_colors), colorbar=cbar(467, 728, 955, 27, [-10,0,10,20])),
    coloraxis2=dict(cmin=scale_b_values[0], cmax=scale_b_values[-1], colorscale=scale(scale_b_values, scale_b_colors), colorbar=cbar(1141, 1402, 452, 27, [-40,0,40])),
    coloraxis3=dict(cmin=scale_c_values[0], cmax=scale_c_values[-1], colorscale=scale(scale_c_values, scale_c_colors), colorbar=cbar(1141, 1402, 954, 28, [-30,0,30])),
)
fig.write_html("out.html", post_script="document.body.style.margin='0';", config=dict(displayModeBar=False))
